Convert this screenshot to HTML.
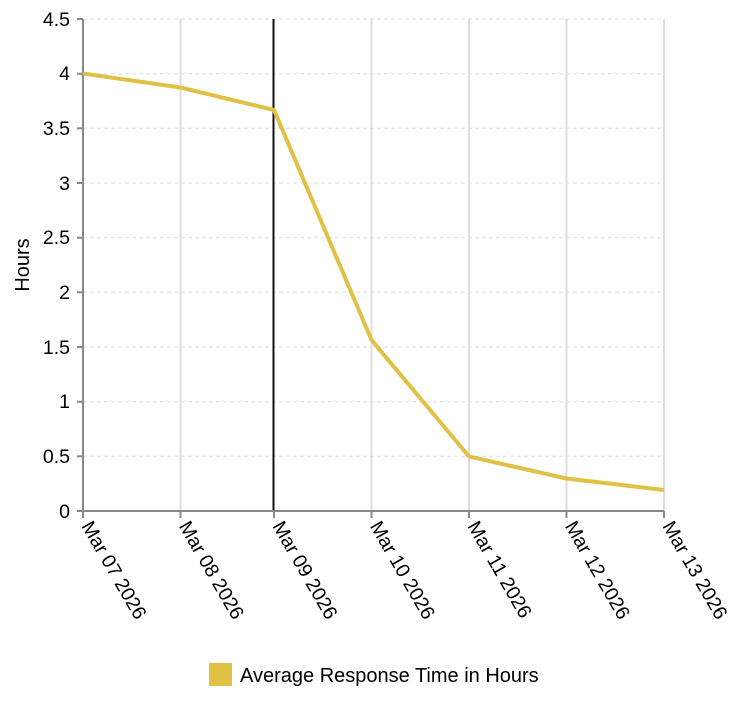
<!DOCTYPE html>
<html><head><style>body{margin:0;background:#fff}svg{font-family:"Liberation Sans",Arial,sans-serif}</style></head>
<body>
<svg width="740" height="700" xmlns="http://www.w3.org/2000/svg">
<g stroke="#ddd" stroke-width="1" stroke-dasharray="4,3">
<line x1="83" x2="664" y1="456.3" y2="456.3"/><line x1="83" x2="664" y1="401.7" y2="401.7"/>
<line x1="83" x2="664" y1="347" y2="347"/><line x1="83" x2="664" y1="292.3" y2="292.3"/>
<line x1="83" x2="664" y1="237.7" y2="237.7"/><line x1="83" x2="664" y1="183" y2="183"/>
<line x1="83" x2="664" y1="128.3" y2="128.3"/><line x1="83" x2="664" y1="73.7" y2="73.7"/>
<line x1="83" x2="664" y1="19" y2="19"/>
</g>
<g stroke="#ddd" stroke-width="2">
<line x1="180.5" x2="180.5" y1="19" y2="511"/><line x1="371.5" x2="371.5" y1="19" y2="511"/>
<line x1="469" x2="469" y1="19" y2="511"/><line x1="566.5" x2="566.5" y1="19" y2="511"/>
<line x1="664" x2="664" y1="19" y2="511"/>
</g>
<line x1="273.5" x2="273.5" y1="19" y2="511" stroke="#111" stroke-width="2"/>
<g stroke="#888" stroke-width="2">
<line x1="83" x2="83" y1="19" y2="511"/><line x1="77" x2="664" y1="511" y2="511"/>
<line x1="77" x2="83" y1="456.3" y2="456.3"/><line x1="77" x2="83" y1="401.7" y2="401.7"/>
<line x1="77" x2="83" y1="347" y2="347"/><line x1="77" x2="83" y1="292.3" y2="292.3"/>
<line x1="77" x2="83" y1="237.7" y2="237.7"/><line x1="77" x2="83" y1="183" y2="183"/>
<line x1="77" x2="83" y1="128.3" y2="128.3"/><line x1="77" x2="83" y1="73.7" y2="73.7"/>
<line x1="77" x2="83" y1="19" y2="19"/>
<line x1="83" x2="83" y1="511" y2="518"/><line x1="180.5" x2="180.5" y1="511" y2="518"/>
<line x1="274" x2="274" y1="511" y2="518"/><line x1="371.5" x2="371.5" y1="511" y2="518"/>
<line x1="469" x2="469" y1="511" y2="518"/><line x1="566.5" x2="566.5" y1="511" y2="518"/>
<line x1="664" x2="664" y1="511" y2="518"/>
</g>
<polyline fill="none" stroke="#e1c046" stroke-width="4" points="83,73.5 180.5,87.5 274,110 371.5,340 469,456.5 566.5,478.5 664,490"/>
<g font-size="19.5" fill="#000" text-anchor="end">
<text x="70" y="518">0</text><text x="70" y="463">0.5</text><text x="70" y="408">1</text>
<text x="70" y="354">1.5</text><text x="70" y="299">2</text><text x="70" y="244">2.5</text>
<text x="70" y="190">3</text><text x="70" y="135">3.5</text><text x="70" y="80">4</text>
<text x="70" y="26">4.5</text>
</g>
<text transform="translate(29,265) rotate(-90)" font-size="20" text-anchor="middle">Hours</text>
<g font-size="19.5" fill="#000">
<text transform="translate(81,526) rotate(60)">Mar 07 2026</text>
<text transform="translate(178.5,526) rotate(60)">Mar 08 2026</text>
<text transform="translate(272,526) rotate(60)">Mar 09 2026</text>
<text transform="translate(369.5,526) rotate(60)">Mar 10 2026</text>
<text transform="translate(467,526) rotate(60)">Mar 11 2026</text>
<text transform="translate(564.5,526) rotate(60)">Mar 12 2026</text>
<text transform="translate(662,526) rotate(60)">Mar 13 2026</text>
</g>
<rect x="209" y="663" width="23" height="23" fill="#e1c046"/>
<text x="240" y="682" font-size="20">Average Response Time in Hours</text>
</svg>
</body></html>
